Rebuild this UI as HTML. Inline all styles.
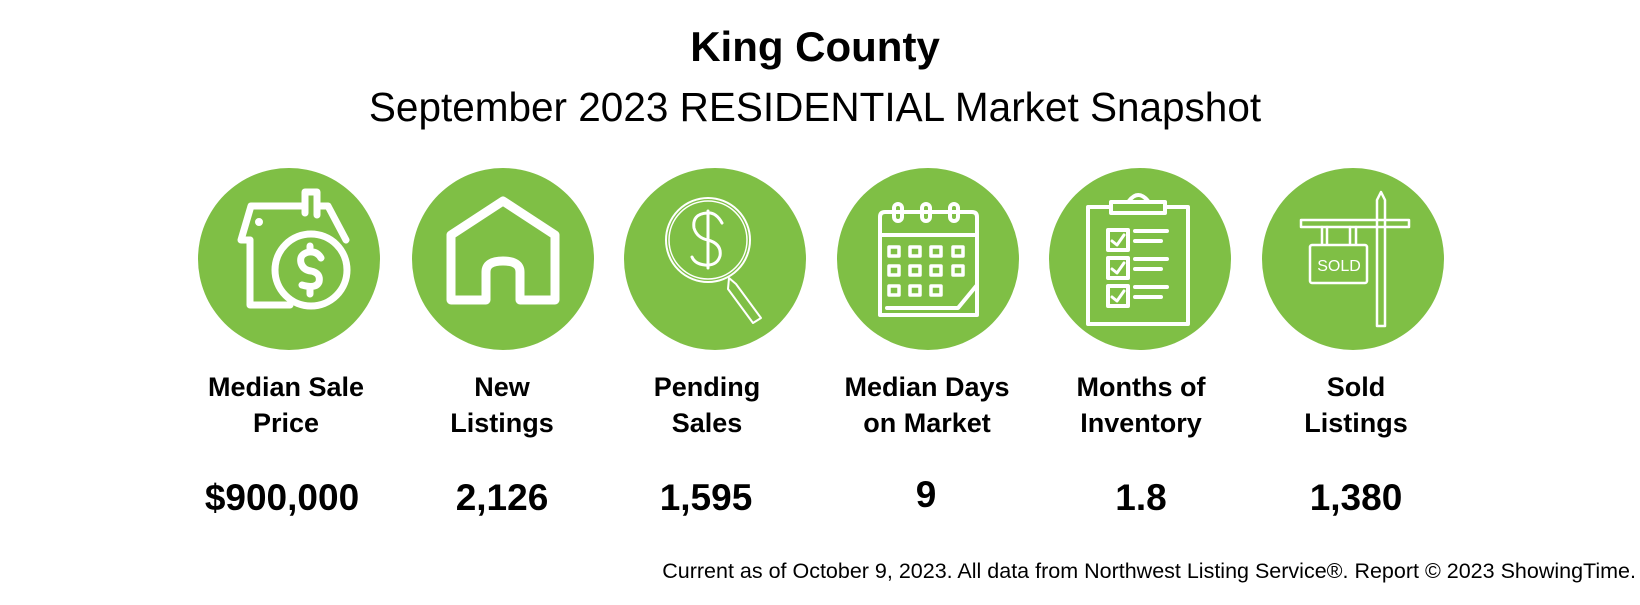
<!DOCTYPE html>
<html><head><meta charset="utf-8"><style>
body{margin:0;background:#fff;width:1640px;height:600px;overflow:hidden}
svg text{font-family:"Liberation Sans",sans-serif;fill:#000}
</style></head><body>
<svg width="1640" height="600" viewBox="0 0 1640 600">
<text x="815" y="61" text-anchor="middle" font-size="42" font-weight="bold">King County</text>
<text x="815" y="121" text-anchor="middle" font-size="40.5">September 2023 RESIDENTIAL Market Snapshot</text>
<g fill="#7fbf45">
<circle cx="289" cy="259" r="91"/><circle cx="503" cy="259" r="91"/><circle cx="715" cy="259" r="91"/>
<circle cx="928" cy="259" r="91"/><circle cx="1140" cy="259" r="91"/><circle cx="1353" cy="259" r="91"/>
</g>
<g stroke="#fff" fill="none" stroke-linecap="round" stroke-linejoin="round">
<g stroke-width="7">
<path d="M250 240 L241 240 L251 206 L302 206 M320 206 L328 206 L346 240"/>
<path d="M305 213 L305 192 L317 192 L317 215"/>
<path d="M250 240 L250 305 L290 305"/>
<circle cx="311" cy="270" r="36"/>
<path d="M321 258 Q317 251 309 252 Q299 254 301 263 Q303 270 311 271 Q321 273 319 282 Q316 289 302 285 M310 246 L310 251 M310 288 L310 294"/>
</g>
<circle cx="259" cy="222" r="3" fill="#fff" stroke-width="2"/>
<path d="M451 235 L503 201 L555 235 L555 300 L520 300 L520 272 Q520 261 503 261 Q486 261 486 272 L486 300 L451 300 Z" stroke-width="9"/>
<circle cx="708" cy="240" r="42" stroke-width="2"/><circle cx="708" cy="240" r="39" stroke-width="1.5"/>
<path d="M722 223 Q716 212 707 213 Q692 214 694 228 Q697 238 708 240 Q722 244 720 256 Q717 266 705 265 Q695 264 692 257 M708 211 L708 268" stroke-width="3"/>
<path d="M729 278 L736 284 L761 318 L753 323 L728 289 Z" stroke-width="2"/>
<g stroke-width="4">
<path d="M880 315 L880 217 Q880 212 885 212 L972 212 Q977 212 977 217 L977 285 L958 308 L887 308 M880 315 L977 315 L977 285"/>
<path d="M880 235 L977 235"/>
<rect x="894" y="204" width="8" height="17" rx="4"/><rect x="922" y="204" width="8" height="17" rx="4"/><rect x="950" y="204" width="8" height="17" rx="4"/>
<g stroke-width="3.5">
<rect x="889" y="247" width="10" height="9"/><rect x="910" y="247" width="10" height="9"/><rect x="931" y="247" width="10" height="9"/><rect x="953" y="247" width="10" height="9"/>
<rect x="889" y="266" width="10" height="9"/><rect x="910" y="266" width="10" height="9"/><rect x="931" y="266" width="10" height="9"/><rect x="953" y="266" width="10" height="9"/>
<rect x="889" y="286" width="10" height="9"/><rect x="910" y="286" width="10" height="9"/><rect x="931" y="286" width="10" height="9"/>
</g></g>
<g stroke-width="4">
<rect x="1088" y="207" width="100" height="117"/>
<rect x="1111" y="202" width="54" height="11" fill="#7fbf45"/>
<path d="M1129 201 Q1138 189 1148 201"/>
<rect x="1108" y="230" width="20" height="20"/><rect x="1108" y="258" width="20" height="20"/><rect x="1108" y="286" width="20" height="20"/>
<path d="M1135 231 L1167 231 M1135 241 L1161 241 M1135 259 L1167 259 M1135 269 L1161 269 M1135 287 L1167 287 M1135 297 L1161 297"/>
<path d="M1112 241 L1117 245 L1124 235 M1112 269 L1117 273 L1124 263 M1112 297 L1117 301 L1124 291" stroke-width="3"/>
</g>
<g stroke-width="2.5">
<path d="M1301 220 L1409 220 L1409 227 L1301 227 Z"/>
<path d="M1377 326 L1377 200 L1381 192 L1385 200 L1385 326 Z"/>
<path d="M1322 227 L1322 244 M1327 227 L1327 244 M1350 227 L1350 244 M1356 227 L1356 244"/>
<rect x="1310" y="245" width="57" height="38" rx="2"/>
</g>
</g>
<text x="1339" y="271" text-anchor="middle" font-size="16" style="fill:#fff">SOLD</text>
<g font-size="27" font-weight="bold" text-anchor="middle">
<text x="286" y="396">Median Sale</text><text x="286" y="432">Price</text>
<text x="502" y="396">New</text><text x="502" y="432">Listings</text>
<text x="707" y="396">Pending</text><text x="707" y="432">Sales</text>
<text x="927" y="396">Median Days</text><text x="927" y="432">on Market</text>
<text x="1141" y="396">Months of</text><text x="1141" y="432">Inventory</text>
<text x="1356" y="396">Sold</text><text x="1356" y="432">Listings</text>
</g>
<g font-size="37" font-weight="bold" text-anchor="middle">
<text x="282" y="510">$900,000</text><text x="502" y="510">2,126</text><text x="706" y="510">1,595</text>
<text x="926" y="507">9</text><text x="1141" y="510">1.8</text><text x="1356" y="510">1,380</text>
</g>
<text x="1636" y="578" text-anchor="end" font-size="21.5">Current as of October 9, 2023. All data from Northwest  Listing Service®. Report © 2023 ShowingTime.</text>
</svg>
</body></html>
